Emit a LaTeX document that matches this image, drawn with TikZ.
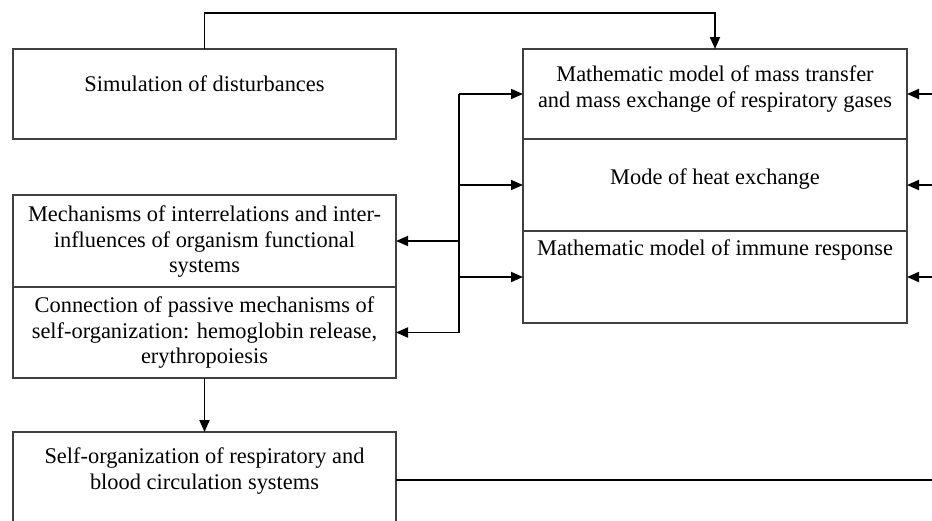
\documentclass[tikz,border=0pt]{standalone}
\usepackage{fontspec}
\setmainfont{Liberation Serif}
\usetikzlibrary{positioning,arrows.meta}

\begin{document}
\begin{tikzpicture}[x=0.5pt, y=-0.5pt, font=\fontsize{11.2}{12.8}\selectfont, node distance=0pt, >={Triangle[length=6pt,width=5pt]}, line width=0.9pt,
  box/.style={draw=black!75, rectangle, inner sep=0pt, outer sep=0pt, minimum width=191.5pt},
  rbox/.style={draw=black!75, rectangle, inner sep=0pt, outer sep=0pt, minimum width=192pt},
  txt/.style={inner sep=0pt, align=center}]
\useasboundingbox (0,0) rectangle (932,520);
% left column
\node[box, minimum height=45pt, anchor=north west] (sim) at (13,49) {};
\node[box, minimum height=46pt, anchor=north west] (mech) at (13,195) {};
\node[box, minimum height=45.5pt, below=of mech] (conn) {};
\node[box, minimum height=48pt, anchor=north west] (self) at (13,432) {};
% right column: the three models
\node[rbox, minimum height=45pt, anchor=north west] (mass) at (523,49) {};
\node[rbox, minimum height=46pt, below=of mass] (heat) {};
\node[rbox, minimum height=46pt, below=of heat] (immune) {};
% texts, hung from the top of each box
\node[txt, below=13pt of sim.north] (tsim) {Simulation of disturbances};
\node[txt, below=5pt of mech.north] (tmech) {Mechanisms of interrelations and inter-\\influences of organism functional\\systems};
\node[txt, below=4.5pt of conn.north] (tconn) {Connection of passive mechanisms of\\self-organization: hemoglobin release,\\erythropoiesis};
\node[txt, below=7.5pt of self.north] (tself) {Self-organization of respiratory and\\blood circulation systems};
\node[txt, below=8pt of mass.north] (tmass) {Mathematic model of mass transfer\\and mass exchange of respiratory gases};
\node[txt, below=14.5pt of heat.north] (theat) {Mode of heat exchange};
\node[txt, below=4pt of immune.north] (timmune) {Mathematic model of immune response};
% disturbances go over the top into the models
\draw[->] (sim.north) -- ++(0,-36) -| (mass.north);
% bus between the models and the left column
\coordinate (bus) at (459,0);
\draw (bus |- mass.west) -- (bus |- conn.east);
\foreach \n in {mass,heat,immune}
  \draw[->] (bus |- \n.west) -- (\n.west);
\foreach \n in {mech,conn}
  \draw[->] (bus |- \n.east) -- (\n.east);
% inputs from the right edge
\coordinate (edge) at (940,0);
\foreach \n in {mass,heat,immune}
  \draw[->] (edge |- \n.east) -- (\n.east);
\draw[->] (conn) -- (self);
\draw[line width=0.7pt] (self.east) -- (edge |- self.east);
\end{tikzpicture}
\end{document}
